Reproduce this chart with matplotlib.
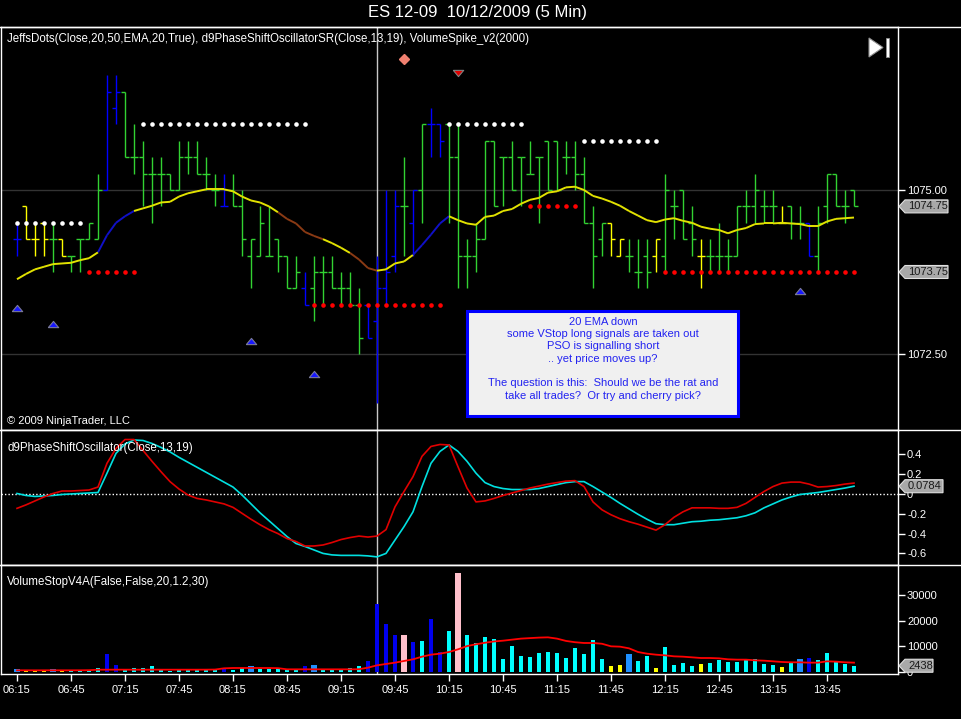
import numpy as np
import matplotlib
matplotlib.use("Agg")
import matplotlib.pyplot as plt
from matplotlib.collections import LineCollection
from matplotlib.lines import Line2D
from matplotlib.patches import Polygon, Rectangle
from matplotlib.transforms import IdentityTransform

plt.rcParams["font.family"] = ["Liberation Sans", "DejaVu Sans"]

# ---- price bars (5 min, 06:15 .. 14:00) ----
opens = [1074.25, 1074.75, 1074.25, 1074.50, 1074.25, 1074.25, 1074.00, 1074.25, 1074.25, 1074.25,
         1075.00, 1076.25, 1076.50, 1075.50, 1075.50, 1075.25, 1075.25, 1075.25, 1075.00, 1075.50,
         1075.50, 1075.25, 1075.00, 1074.75, 1075.00, 1074.75, 1074.00, 1074.00, 1074.00, 1074.25,
         1074.00, 1073.50, 1073.50, 1073.50, 1073.75, 1073.75, 1073.50, 1073.50, 1073.25, 1073.25,
         1073.00, 1073.50, 1074.00, 1074.75, 1074.50, 1075.00, 1076.00, 1076.00, 1076.00, 1075.50,
         1074.00, 1074.00, 1074.25, 1075.75, 1075.50, 1075.50, 1075.50, 1075.25, 1075.50, 1075.75,
         1075.75, 1075.50, 1075.50, 1075.25, 1074.50, 1074.25, 1074.50, 1074.00, 1074.00, 1073.75,
         1074.00, 1074.00, 1074.00, 1074.75, 1075.00, 1074.50, 1074.00, 1074.00, 1074.00, 1074.00,
         1074.00, 1074.75, 1074.75, 1074.75, 1074.75, 1074.50, 1074.75, 1074.50, 1074.50, 1074.00,
         1074.75, 1075.25, 1074.75, 1075.00]
highs = [1074.50, 1074.75, 1074.50, 1074.50, 1074.50, 1074.25, 1074.00, 1074.25, 1074.50, 1075.25,
         1076.75, 1076.75, 1076.50, 1076.00, 1075.75, 1075.50, 1075.50, 1075.25, 1075.75, 1075.75,
         1075.75, 1075.50, 1075.25, 1075.25, 1075.25, 1075.00, 1074.25, 1074.75, 1074.75, 1074.25,
         1074.00, 1074.00, 1073.75, 1074.00, 1074.00, 1074.00, 1073.75, 1073.75, 1073.50, 1073.25,
         1074.00, 1075.00, 1075.00, 1075.50, 1075.00, 1076.00, 1076.25, 1076.00, 1076.00, 1076.00,
         1074.25, 1074.50, 1075.75, 1075.75, 1075.50, 1075.75, 1075.50, 1075.75, 1075.50, 1075.75,
         1075.75, 1075.75, 1075.75, 1075.50, 1074.75, 1074.50, 1074.50, 1074.25, 1074.25, 1074.25,
         1074.25, 1074.25, 1075.25, 1075.00, 1075.00, 1074.75, 1074.25, 1074.25, 1074.50, 1074.25,
         1074.75, 1075.00, 1075.25, 1075.00, 1075.00, 1074.75, 1074.75, 1074.75, 1074.50, 1074.75,
         1075.25, 1075.25, 1075.00, 1075.00]
lows = [1074.00, 1074.25, 1074.00, 1074.00, 1073.75, 1074.00, 1073.75, 1073.75, 1074.25, 1074.25,
        1075.00, 1076.00, 1075.50, 1075.25, 1074.75, 1074.50, 1074.75, 1075.00, 1075.00, 1075.25,
        1075.25, 1075.00, 1074.75, 1074.75, 1074.75, 1074.00, 1073.50, 1074.00, 1074.00, 1073.75,
        1073.50, 1073.50, 1073.25, 1073.00, 1073.25, 1073.50, 1073.25, 1073.25, 1072.50, 1072.75,
        1071.75, 1073.25, 1073.75, 1074.00, 1074.00, 1074.50, 1075.50, 1075.50, 1074.50, 1073.50,
        1073.50, 1073.75, 1074.25, 1074.75, 1074.75, 1075.00, 1074.75, 1075.25, 1074.50, 1075.00,
        1075.00, 1075.25, 1075.00, 1074.50, 1073.50, 1074.00, 1074.00, 1074.00, 1073.75, 1073.50,
        1073.50, 1073.75, 1073.75, 1074.25, 1074.25, 1074.00, 1073.50, 1073.75, 1073.75, 1073.75,
        1074.00, 1074.50, 1074.50, 1074.50, 1074.50, 1074.50, 1074.25, 1074.25, 1074.00, 1073.75,
        1074.50, 1074.75, 1074.50, 1074.75]
closes = [1074.25, 1074.25, 1074.25, 1074.25, 1074.25, 1074.00, 1074.00, 1074.25, 1074.50, 1075.00,
          1076.50, 1076.50, 1075.50, 1075.50, 1075.25, 1075.25, 1075.25, 1075.00, 1075.50, 1075.50,
          1075.25, 1075.25, 1075.00, 1074.75, 1074.75, 1074.25, 1074.25, 1074.50, 1074.00, 1074.00,
          1073.50, 1073.75, 1073.25, 1073.75, 1073.75, 1073.50, 1073.50, 1073.25, 1072.75, 1072.75,
          1073.50, 1073.75, 1074.75, 1074.75, 1075.00, 1076.00, 1076.00, 1075.75, 1075.50, 1074.00,
          1074.00, 1074.25, 1075.75, 1074.75, 1075.50, 1075.00, 1075.50, 1075.25, 1075.50, 1075.00,
          1075.00, 1075.50, 1075.25, 1074.50, 1074.00, 1074.50, 1074.25, 1074.25, 1074.00, 1073.75,
          1073.75, 1074.25, 1075.00, 1074.75, 1074.25, 1074.25, 1074.00, 1074.00, 1074.00, 1074.00,
          1074.75, 1074.75, 1075.00, 1074.75, 1074.75, 1074.50, 1074.50, 1074.50, 1074.00, 1074.50,
          1075.25, 1074.75, 1074.75, 1074.75]
# g = green, b = blue, y = yellow (JeffsDots bar colouring)
bar_codes = ("byyygygggg" "bbggggggggggg" "b" "gggggggg" "b" "gggggg" "bbbb" "gbgbb"
             "gggggggggggggggggg" "yy" "ggg" "y" "gggg" "y" "gggggggg" "y" "gg" "b" "ggggg")

ema = [1073.64, 1073.72, 1073.79, 1073.83, 1073.87, 1073.88, 1073.89, 1073.93, 1073.96, 1074.05,
       1074.31, 1074.50, 1074.60, 1074.68, 1074.72, 1074.76, 1074.81, 1074.82, 1074.90, 1074.95,
       1074.98, 1075.01, 1075.01, 1075.01, 1074.98, 1074.90, 1074.84, 1074.81, 1074.75, 1074.66,
       1074.56, 1074.49, 1074.36, 1074.30, 1074.25, 1074.19, 1074.12, 1074.04, 1073.94, 1073.81,
       1073.77, 1073.79, 1073.88, 1073.91, 1074.01, 1074.16, 1074.32, 1074.49, 1074.60, 1074.54,
       1074.49, 1074.47, 1074.59, 1074.61, 1074.68, 1074.71, 1074.79, 1074.85, 1074.88, 1074.96,
       1074.98, 1075.04, 1075.05, 1075.00, 1074.91, 1074.87, 1074.82, 1074.76, 1074.68, 1074.61,
       1074.54, 1074.51, 1074.55, 1074.57, 1074.53, 1074.50, 1074.44, 1074.41, 1074.39, 1074.34,
       1074.39, 1074.42, 1074.48, 1074.49, 1074.49, 1074.50, 1074.49, 1074.48, 1074.45, 1074.45,
       1074.52, 1074.56, 1074.57, 1074.58]
# colour of the EMA segment ending at each bar: y = yellow, b = rising, r = falling
ema_codes = "y" * 10 + "bbbb" + "y" * 16 + "rrrrr" + "yyy" + "rrr" + "yyyy" + "bbbb" + "y" * 45

# stop dots: (first bar, last bar, level)
upper_stop_runs = [(0, 7, 1074.50), (14, 32, 1076.00), (48, 56, 1076.00), (63, 71, 1075.75)]
lower_stop_runs = [(8, 13, 1073.75), (33, 47, 1073.25), (57, 62, 1074.75), (72, 93, 1073.75)]

long_signal_bars = [0, 4, 26, 33, 87]
long_signal_prices = [1073.20, 1072.96, 1072.70, 1072.20, 1073.46]
diamond_bar, diamond_price = 43, 1077.00
short_signal_bar, short_signal_price = 49, 1076.78

# ---- d9PhaseShiftOscillator ----
pso_red = [-0.145, -0.11, -0.07, -0.03, 0.005, 0.03, 0.03, 0.035, 0.04, 0.07,
           0.31, 0.46, 0.55, 0.55, 0.44, 0.33, 0.225, 0.125, 0.05, -0.01,
           -0.045, -0.06, -0.08, -0.10, -0.135, -0.195, -0.255, -0.31, -0.36, -0.40,
           -0.45, -0.48, -0.525, -0.525, -0.515, -0.49, -0.46, -0.44, -0.425, -0.435,
           -0.425, -0.36, -0.13, 0.025, 0.175, 0.38, 0.48, 0.50, 0.495, 0.275,
           0.06, -0.08, -0.07, -0.045, -0.015, 0.01, 0.035, 0.06, 0.08, 0.10,
           0.115, 0.13, 0.135, 0.075, -0.08, -0.16, -0.21, -0.25, -0.28, -0.305,
           -0.335, -0.365, -0.31, -0.235, -0.18, -0.14, -0.14, -0.14, -0.145, -0.145,
           -0.135, -0.095, -0.035, 0.025, 0.075, 0.11, 0.12, 0.12, 0.10, 0.07,
           0.075, 0.085, 0.10, 0.11]
pso_cyan = [0.005, -0.015, -0.025, -0.02, -0.015, -0.005, 0.0, 0.005, 0.01, 0.015,
            0.21, 0.41, 0.505, 0.545, 0.54, 0.51, 0.47, 0.425, 0.37, 0.32,
            0.27, 0.22, 0.17, 0.12, 0.07, -0.01, -0.10, -0.19, -0.27, -0.35,
            -0.43, -0.50, -0.53, -0.565, -0.60, -0.615, -0.62, -0.62, -0.62, -0.625,
            -0.635, -0.60, -0.465, -0.33, -0.18, 0.075, 0.31, 0.43, 0.495, 0.43,
            0.33, 0.21, 0.115, 0.075, 0.055, 0.045, 0.045, 0.045, 0.055, 0.075,
            0.095, 0.115, 0.125, 0.125, 0.075, 0.02, -0.035, -0.095, -0.15, -0.205,
            -0.255, -0.30, -0.31, -0.31, -0.295, -0.28, -0.275, -0.265, -0.26, -0.25,
            -0.24, -0.22, -0.19, -0.14, -0.10, -0.06, -0.03, -0.005, 0.005, 0.015,
            0.03, 0.045, 0.06, 0.0784]

# ---- volume ----
volume = [1040, 400, 250, 250, 1040, 250, 400, 400, 400, 1560,
          7000, 2730, 1170, 1430, 1560, 2340, 650, 400, 1040, 1170,
          1170, 1170, 780, 1560, 650, 1560, 2340, 1300, 1300, 1560,
          900, 1170, 2340, 2730, 900, 780, 900, 1560, 2340, 4290,
          26600, 18700, 14400, 14400, 11700, 12100, 20600, 7800, 16000, 38700,
          14400, 11400, 13600, 12900, 5060, 10100, 6230, 5840, 7270, 7790,
          7270, 5450, 9350, 7010, 12500, 5060, 2340, 2730, 7010, 4290,
          6230, 1560, 9740, 2730, 3510, 2340, 3120, 3510, 4680, 3900,
          3900, 5060, 5060, 3120, 2730, 1950, 3510, 5060, 5450, 4680,
          7400, 3900, 3120, 2438]
# c = cyan, b = blue, y = yellow, d = wide dodger blue, p = wide pink
volume_codes = ("dyyydy" "cccc" "bb" "ccccccccccc" "b" "cc" "d" "ccccc" "b" "d" "ccccc" "bbbb"
                "p" "b" "c" "bb" "c" "p" "cccccccccccccccc" "yy" "d" "cc" "y" "cccc" "y"
                "cccccccc" "y" "c" "d" "b" "ccccc")
volume_avg = [650, 650, 640, 650, 660, 650, 650, 660, 700, 900,
              900, 910, 900, 900, 900, 910, 900, 900, 900, 900,
              900, 910, 950, 1430, 1560, 1560, 1580, 1560, 1560, 1500,
              1040, 1040, 1040, 1050, 1040, 1040, 1040, 1040, 1100, 1690,
              2600, 3120, 3640, 4290, 4940, 5970, 6750, 7140, 7790, 8830,
              10100, 10800, 11400, 11900, 12200, 12600, 13000, 13200, 13400, 13500,
              13000, 12100, 11600, 11300, 11300, 11000, 10000, 9870, 9220, 7790,
              7140, 6750, 6490, 6100, 5970, 5710, 5450, 5450, 5320, 4940,
              4810, 4810, 4550, 4420, 4160, 3900, 3770, 3770, 3640, 3640,
              4160, 4030, 3770, 3640]

time_labels = ["06:15", "06:45", "07:15", "07:45", "08:15", "08:45", "09:15", "09:45",
               "10:15", "10:45", "11:15", "11:45", "12:15", "12:45", "13:15", "13:45"]
cursor_bar = 40

note = ("20 EMA down\nsome VStop long signals are taken out\nPSO is signalling short\n"
        ".. yet price moves up?\n\nThe question is this:  Should we be the rat and\n"
        "take all trades?  Or try and cherry pick?")

bar_palette = {"g": "#32D232", "b": "#0000FF", "y": "#FFFF00"}
ema_palette = {"y": "#E2E200", "b": "#1010C8", "r": "#8A3A14"}
vol_palette = {"c": "#00FFFF", "b": "#0000EE", "y": "#FFFF00", "d": "#1E90FF", "p": "#FFC0CB"}

n = len(closes)
x = np.arange(n)
W, H = 962, 719


def px_rect(x0, y0, x1, y1):
    return [x0 / W, 1 - y1 / H, (x1 - x0) / W, (y1 - y0) / H]


fig = plt.figure(figsize=(W / 100, H / 100), dpi=100, facecolor="black")
ax_p = fig.add_axes(px_rect(1, 27, 898, 430))
ax_o = fig.add_axes(px_rect(1, 430, 898, 565))
ax_v = fig.add_axes(px_rect(1, 565, 898, 674))

for ax in (ax_p, ax_o, ax_v):
    ax.set_facecolor("black")
    ax.set_xlim((1 - 17) / 9, (898 - 17) / 9)
    for sp in ax.spines.values():
        sp.set_color("white")
        sp.set_linewidth(1)
    ax.yaxis.tick_right()
    ax.tick_params(axis="y", colors="white", labelcolor="white", length=5, width=1,
                   pad=1.5, labelsize=8)
    ax.tick_params(axis="x", bottom=False, labelbottom=False)
    ax.axvline(cursor_bar, color="#C8C8C8", lw=1, zorder=1)

# ---- price panel ----
ax_p.set_ylim(1071.341, 1077.485)
ax_p.set_yticks([1072.5, 1075.0], ["1072.50", "1075.00"])
ax_p.yaxis.grid(True, color="#333333", lw=1)
ax_p.set_axisbelow(True)

cols = [bar_palette[c] for c in bar_codes]
ax_p.vlines(x, lows, highs, colors=cols, lw=1.0, zorder=3)
ax_p.hlines(opens, x - 0.4, x, colors=cols, lw=1.0, zorder=3)
ax_p.hlines(closes, x, x + 0.4, colors=cols, lw=1.0, zorder=3)

pts = np.column_stack([x, ema])
segs = np.stack([pts[:-1], pts[1:]], axis=1)
ax_p.add_collection(LineCollection(segs, colors=[ema_palette[c] for c in ema_codes[1:]],
                                   lw=1.4, zorder=4))

upper = np.full(n, np.nan)
for a, b, lvl in upper_stop_runs:
    upper[a:b + 1] = lvl
lower = np.full(n, np.nan)
for a, b, lvl in lower_stop_runs:
    lower[a:b + 1] = lvl
ax_p.plot(x, upper, "o", color="white", ms=3.3, mew=0, zorder=5)
ax_p.plot(x, lower, "o", color="#FF0000", ms=3.3, mew=0, zorder=5)

up_tri = [(-1, -0.6), (1, -0.6), (0, 0.6), (-1, -0.6)]
dn_tri = [(-1, 0.6), (1, 0.6), (0, -0.6), (-1, 0.6)]
ax_p.plot(long_signal_bars, long_signal_prices, ls="none", marker=up_tri, ms=7.5,
          color="#1818FF", mec="#7A7A9A", mew=0.8, zorder=5)
ax_p.plot([diamond_bar], [diamond_price], ls="none", marker="D", ms=5.5,
          color="#F08070", mec="#F08070", zorder=5)
ax_p.plot([short_signal_bar], [short_signal_price], ls="none", marker=dn_tri, ms=7.5,
          color="#E00000", mec="#808080", mew=0.8, zorder=5)

ax_p.add_patch(Rectangle(((467 - 17) / 9, 1071.555), (738 - 467) / 9, 1.60,
                         fc="#F0F0F0", ec="#0000FF", lw=2.2, zorder=6))
ax_p.text((603 - 17) / 9, 1073.07, note, ha="center", va="top", color="#2323F0",
          fontsize=8.0, linespacing=1.29, zorder=7)

ax_p.text(0.007, 0.970, "JeffsDots(Close,20,50,EMA,20,True), d9PhaseShiftOscillatorSR(Close,13,19), "
          "VolumeSpike_v2(2000)", transform=ax_p.transAxes, color="white", fontsize=8.3,
          va="center", ha="left")
ax_p.text(0.007, 0.022, "© 2009 NinjaTrader, LLC", transform=ax_p.transAxes, color="white",
          fontsize=8, va="center", ha="left")

# ---- oscillator panel ----
ax_o.set_ylim(-0.717, 0.646)
ax_o.set_yticks([-0.6, -0.4, -0.2, 0, 0.2, 0.4], ["-0.6", "-0.4", "-0.2", "0", "0.2", "0.4"])
ax_o.axhline(0, color="white", lw=1, ls=(0, (1, 1.5)), zorder=2)
ax_o.plot(x, pso_cyan, color="#00E0E0", lw=1.2, zorder=3)
ax_o.plot(x, pso_red, color="#E00000", lw=1.2, zorder=3)
ax_o.text(0.007, 0.867, "d9PhaseShiftOscillator(Close,13,19)", transform=ax_o.transAxes,
          color="white", fontsize=8.3, va="center", ha="left")

# ---- volume panel ----
ax_v.set_ylim(-780, 41680)
ax_v.set_yticks([0, 10000, 20000, 30000], ["0", "10000", "20000", "30000"])
widths = [0.72 if c in "dp" else 0.36 for c in volume_codes]
ax_v.bar(x, volume, width=widths, color=[vol_palette[c] for c in volume_codes], zorder=3)
ax_v.plot(x, volume_avg, color="#FF0000", lw=1.3, zorder=4)
ax_v.text(0.007, 0.844, "VolumeStopV4A(False,False,20,1.2,30)", transform=ax_v.transAxes,
          color="white", fontsize=8.3, va="center", ha="left")
ax_v.set_xticks(np.arange(0, n, 6)[:len(time_labels)], time_labels)
ax_v.tick_params(axis="x", bottom=True, labelbottom=True, colors="white", labelcolor="white",
                 length=5, width=1, pad=3, labelsize=8)

# ---- chrome: title, separators, play icon, value flags ----
fig.text(478 / W, 1 - 13 / H, "ES 12-09  10/12/2009 (5 Min)", color="white", fontsize=12,
         ha="center", va="center")
ident = IdentityTransform()
for yy in (27, 430, 565):
    fig.add_artist(Line2D([0, W], [H - yy, H - yy], color="white", lw=1, transform=ident))
fig.add_artist(Polygon([(869, H - 38), (869, H - 57), (883, H - 47.5)], closed=True,
                       fc="white", ec="#909090", lw=0.8, transform=ident))
fig.add_artist(Rectangle((886, H - 57), 3, 19, fc="white", ec="#909090", lw=0.6,
                         transform=ident))


def value_flag(ax, value, label, width):
    y = ax.transData.transform((0, value))[1]
    x0 = ax.transAxes.transform((1, 0))[0]
    poly = Polygon([(x0 + 1, y), (x0 + 7, y + 6.5), (x0 + width, y + 6.5),
                    (x0 + width, y - 6.5), (x0 + 7, y - 6.5)], closed=True, fc="#A8A8A8",
                   ec="#E0E0E0", lw=0.8, transform=ident, zorder=10)
    fig.add_artist(poly)
    fig.text(x0 + 10, y, label, transform=ident, color="#1A1A1A", fontsize=8,
             ha="left", va="center", zorder=11)


value_flag(ax_p, closes[-1], f"{closes[-1]:.2f}", 50)
value_flag(ax_p, lower[-1], f"{lower[-1]:.2f}", 50)
value_flag(ax_o, pso_cyan[-1], f"{pso_cyan[-1]:.4f}", 45)
value_flag(ax_v, volume[-1], f"{volume[-1]}", 35)

fig.savefig("out.png", dpi=100, facecolor="black")
